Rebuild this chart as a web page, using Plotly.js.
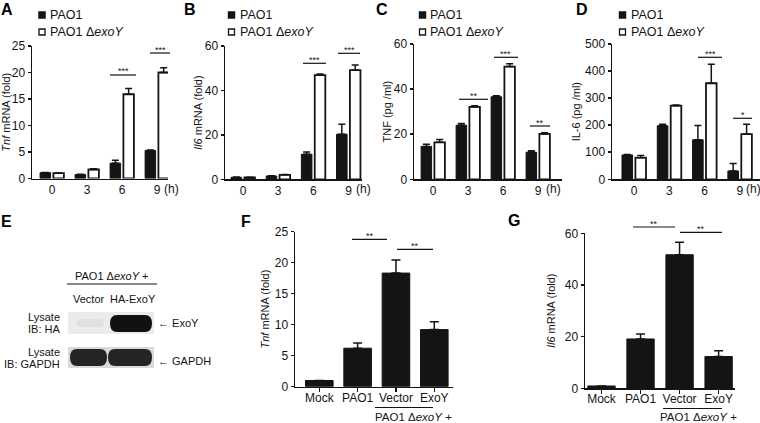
<!DOCTYPE html>
<html><head><meta charset="utf-8">
<script src="https://cdn.plot.ly/plotly-3.0.1.min.js"></script>
<style>html,body{margin:0;padding:0;background:#fff}#chart{width:760px;height:423px}</style>
</head><body><div id="chart"></div>
<script>
// ---------- data ----------
const hours = ['0', '3', '6', '9'];
const strainNames = ['PAO1', 'PAO1 Δ<i>exoY</i>'];
// A: Tnf mRNA (fold)
const tnfMrnaPAO1 = [1.1, 0.75, 2.9, 5.3];
const tnfMrnaPAO1Err = [0.05, 0.05, 0.55, 0.1];
const tnfMrnaExoY = [1.0, 1.7, 15.9, 20.0];
const tnfMrnaExoYErr = [0.05, 0.15, 1.1, 0.9];
// B: Il6 mRNA (fold)
const il6MrnaPAO1 = [0.9, 1.5, 11.3, 20.3];
const il6MrnaPAO1Err = [0.1, 0.1, 1.0, 4.5];
const il6MrnaExoY = [0.8, 2.0, 46.9, 49.1];
const il6MrnaExoYErr = [0.1, 0.2, 0.5, 2.4];
// C: TNF (pg/ml)
const tnfProtPAO1 = [14.6, 24.0, 36.6, 12.0];
const tnfProtPAO1Err = [0.9, 0.7, 0.5, 0.7];
const tnfProtExoY = [16.4, 32.1, 50.0, 20.1];
const tnfProtExoYErr = [1.2, 0.5, 1.2, 0.5];
// D: IL-6 (pg/ml)
const il6ProtPAO1 = [90, 198, 146, 31];
const il6ProtPAO1Err = [2, 5, 53, 27];
const il6ProtExoY = [80, 272, 355, 167];
const il6ProtExoYErr = [8, 3, 70, 36];
// F, G: complementation
const groups = ['Mock', 'PAO1', 'Vector', 'ExoY'];
const tnfComp = [1.0, 6.2, 18.3, 9.2];
const tnfCompErr = [0, 0.85, 2.1, 1.25];
const il6Comp = [0.9, 19.1, 51.7, 12.3];
const il6CompErr = [0, 1.9, 4.8, 2.2];

// ---------- helpers ----------
const W = 760, H = 423;
const X = p => p / W;
const Y = p => 1 - p / H;
const INK = '#141414';
const FONT = 'Liberation Sans, Arial, sans-serif';

function errUp(arr, w) {
  return {type: 'data', array: arr, arrayminus: arr.map(() => 0), symmetric: false,
          color: INK, thickness: 1.5, width: w};
}
function pairTraces(n, v1, e1, v2, e2) {
  const s = n === 1 ? '' : String(n);
  return [
    {type: 'bar', x: hours, y: v1, name: strainNames[0], xaxis: 'x' + s, yaxis: 'y' + s,
     offset: -0.34, width: 0.3, showlegend: false,
     marker: {color: INK, line: {color: INK, width: 1}}, error_y: errUp(e1, 3.5)},
    {type: 'bar', x: hours, y: v2, name: strainNames[1], xaxis: 'x' + s, yaxis: 'y' + s,
     offset: 0.04, width: 0.3, showlegend: false,
     marker: {color: '#ffffff', line: {color: INK, width: 1.8}}, error_y: errUp(e2, 3.5)}
  ];
}
const data = [].concat(
  pairTraces(1, tnfMrnaPAO1, tnfMrnaPAO1Err, tnfMrnaExoY, tnfMrnaExoYErr),
  pairTraces(2, il6MrnaPAO1, il6MrnaPAO1Err, il6MrnaExoY, il6MrnaExoYErr),
  pairTraces(3, tnfProtPAO1, tnfProtPAO1Err, tnfProtExoY, tnfProtExoYErr),
  pairTraces(4, il6ProtPAO1, il6ProtPAO1Err, il6ProtExoY, il6ProtExoYErr),
  [{type: 'bar', x: groups, y: tnfComp, xaxis: 'x5', yaxis: 'y5', width: 0.72, showlegend: false,
    marker: {color: INK, line: {color: INK, width: 1}}, error_y: errUp(tnfCompErr, 4.5)},
   {type: 'bar', x: groups, y: il6Comp, xaxis: 'x6', yaxis: 'y6', width: 0.7, showlegend: false,
    marker: {color: INK, line: {color: INK, width: 1}}, error_y: errUp(il6CompErr, 4.5)}]
);

const axBase = {showline: true, linecolor: INK, linewidth: 1.5, showgrid: false, zeroline: false,
  ticks: 'outside', ticklen: 3, tickwidth: 1.5, tickcolor: INK, fixedrange: true,
  tickfont: {family: FONT, size: 12, color: INK}};

function xAxis(px0, px1, yAnchor, range, cats, tickOn) {
  return Object.assign({}, axBase, {domain: [X(px0), X(px1)], anchor: yAnchor, type: 'category',
    categoryorder: 'array', categoryarray: cats, range: range,
    ticks: 'outside', ticklen: tickOn ? 4 : 1, tickcolor: tickOn ? INK : 'rgba(0,0,0,0)',
    ticklabelstandoff: tickOn ? -5 : -1});
}
function yAxis(pyBottom, pyTop, xAnchor, range, dtick, title, standoff) {
  return Object.assign({}, axBase, {domain: [Y(pyBottom), Y(pyTop)], anchor: xAnchor,
    range: range, dtick: dtick, tick0: 0,
    title: {text: title, standoff: standoff, font: {family: FONT, size: 11, color: INK}}});
}

const layout = {
  width: W, height: H, margin: {l: 0, r: 0, t: 0, b: 0},
  paper_bgcolor: '#fff', plot_bgcolor: 'rgba(0,0,0,0)', barmode: 'overlay', showlegend: false,
  font: {family: FONT, size: 11, color: INK},
  xaxis:  xAxis(32, 168, 'y', [-0.571, 3.314], hours, false),
  yaxis:  yAxis(178.5, 46, 'x', [0, 25], 5, '<i>Tnf</i> mRNA (fold)', 3),
  xaxis2: xAxis(225, 362, 'y2', [-0.512, 3.384], hours, false),
  yaxis2: yAxis(179.3, 46, 'x2', [0, 60], 20, '<i>Il6</i> mRNA (fold)', 0),
  xaxis3: xAxis(414, 562, 'y3', [-0.543, 3.686], hours, false),
  yaxis3: yAxis(179.3, 44, 'x3', [0, 60], 20, 'TNF (pg /ml)', 0),
  xaxis4: xAxis(612, 760, 'y4', [-0.623, 3.57], hours, false),
  yaxis4: yAxis(179.3, 44, 'x4', [0, 500], 100, 'IL-6 (pg /ml)', 2),
  xaxis5: xAxis(295, 453, 'y5', [-0.634, 3.488], groups, true),
  yaxis5: yAxis(386.7, 231.5, 'x5', [0, 25], 5, '<i>Tnf</i> mRNA (fold)', 3),
  xaxis6: xAxis(585, 735, 'y6', [-0.423, 3.42], groups, true),
  yaxis6: yAxis(388.3, 233.3, 'x6', [0, 60], 20, '<i>Il6</i> mRNA (fold)', 7),
  shapes: [], annotations: []
};

function ann(text, x, y, o) {
  layout.annotations.push(Object.assign({text: text, x: X(x), y: Y(y), xref: 'paper', yref: 'paper',
    showarrow: false, xanchor: 'center', yanchor: 'middle',
    font: {family: FONT, size: 11, color: INK}}, o || {}));
}
function hline(x0, x1, y, w) {
  layout.shapes.push({type: 'line', xref: 'paper', yref: 'paper', x0: X(x0), x1: X(x1), y0: Y(y), y1: Y(y),
    line: {color: INK, width: w || 1.2}});
}
function rect(x0, x1, y0, y1, fill, lineColor, lw) {
  layout.shapes.push({type: 'rect', xref: 'paper', yref: 'paper', x0: X(x0), x1: X(x1), y0: Y(y0), y1: Y(y1),
    fillcolor: fill, line: {color: lineColor || fill, width: lw || 0}});
}
function band(x0, x1, y0, y1, r, fill) {
  const ym = (y0 + y1) / 2;
  const p = (x, y) => X(x).toFixed(5) + ',' + Y(y).toFixed(5);
  const path = 'M' + p(x0 + r, y0) + ' L' + p(x1 - r, y0) + ' Q' + p(x1, y0) + ' ' + p(x1, ym) +
    ' Q' + p(x1, y1) + ' ' + p(x1 - r, y1) + ' L' + p(x0 + r, y1) + ' Q' + p(x0, y1) + ' ' + p(x0, ym) +
    ' Q' + p(x0, y0) + ' ' + p(x0 + r, y0) + ' Z';
  layout.shapes.push({type: 'path', xref: 'paper', yref: 'paper', path: path, fillcolor: fill,
    line: {width: 0}});
}
function sig(x0, x1, y, stars) {
  hline(x0, x1, y, 1.2);
  ann(stars, (x0 + x1) / 2, y - 3.5, {font: {family: FONT, size: 9, color: INK}});
}

// panel letters
[['A', 7, 9], ['B', 190.5, 9], ['C', 381.5, 9], ['D', 581.5, 9], ['E', 6.5, 221.5], ['F', 246, 221.5], ['G', 514, 220.5]]
  .forEach(l => ann('<b>' + l[0] + '</b>', l[1], l[2], {font: {family: FONT, size: 16, color: '#000'}}));

// legends (A-D)
[38.5, 228, 419, 619].forEach(sx => {
  rect(sx, sx + 7, 11.5, 18.5, INK, INK, 0.5);
  rect(sx + 0.5, sx + 6.5, 29, 35, '#fff', INK, 1.3);
  ann(strainNames[0], sx + 9.5, 15, {xanchor: 'left', font: {family: FONT, size: 12.5, color: INK}});
  ann(strainNames[1], sx + 9.5, 32, {xanchor: 'left', font: {family: FONT, size: 12.5, color: INK}});
});

// "(h)" after last tick
[[171, 189], [363.5, 189.5], [553.5, 189.5], [753.5, 189.5]].forEach(p =>
  ann('(h)', p[0], p[1], {font: {family: FONT, size: 12, color: INK}}));

// significance
sig(110, 136, 75, '***'); sig(150, 170, 53, '***');
sig(303, 326, 63.3, '***'); sig(338, 360, 53.3, '***');
sig(459, 488, 99.3, '**'); sig(494, 518, 57.3, '***'); sig(530, 550, 126, '**');
sig(698, 722, 57.3, '***'); sig(733, 752, 118.3, '*');
sig(352, 387, 239.3, '**'); sig(397, 433, 249.3, '**');
sig(633, 675, 227, '**'); sig(680, 722, 232.3, '**');

// F/G group label
hline(375, 433, 407.5, 1.2); ann('PAO1 Δ<i>exoY</i> +', 413, 416.5, {font: {family: FONT, size: 11.5, color: INK}});
hline(663, 722, 408.5, 1.2); ann('PAO1 Δ<i>exoY</i> +', 698, 416.5, {font: {family: FONT, size: 11.5, color: INK}});

// E: western blot
ann('PAO1 Δ<i>exoY</i> +', 112, 276);
hline(67, 157, 284, 1.2);
ann('Vector', 89, 299); ann('HA-ExoY', 133, 299);
rect(68, 154, 312, 334, '#ebebeb');
band(76, 104, 319, 327, 4, 'rgba(0,0,0,0.04)');
band(110, 152, 315, 332, 7, '#111');
rect(68, 154, 347, 368, '#d9d9d9');
band(70, 107, 349, 366, 7, '#242424');
band(108, 152, 349, 366, 7, '#242424');
ann('Lysate', 62, 317, {xanchor: 'right'}); ann('IB: HA', 62, 328.5, {xanchor: 'right'});
ann('Lysate', 62, 352, {xanchor: 'right'}); ann('IB: GAPDH', 62, 363.5, {xanchor: 'right'});
ann('← ExoY', 156, 323, {xanchor: 'left'}); ann('← GAPDH', 156, 361, {xanchor: 'left'});

Plotly.newPlot('chart', data, layout, {staticPlot: true, displayModeBar: false});
</script></body></html>
